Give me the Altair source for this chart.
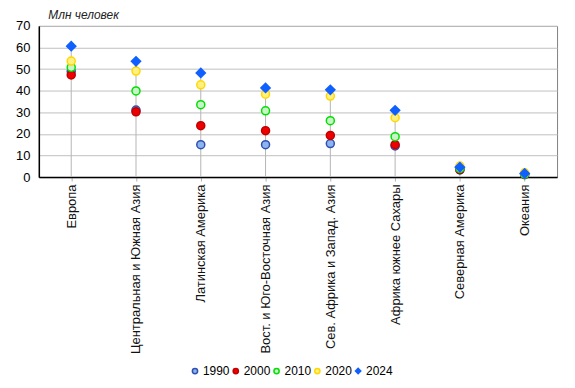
import altair as alt
import pandas as pd

regions = ["Европа", "Центральная и Южная Азия", "Латинская Америка",
           "Вост. и Юго-Восточная  Азия", "Сев. Африка и Запад. Азия",
           "Африка  южнее Сахары", "Северная Америка", "Океания"]
years = ["1990", "2000", "2010", "2020", "2024"]
v1990 = [49.0, 31.0, 15.0, 15.0, 15.5, 14.4, 3.3, 1.1]
v2000 = [47.3, 30.2, 23.8, 21.5, 19.3, 15.0, 3.5, 1.3]
v2010 = [50.8, 39.9, 33.5, 30.7, 26.1, 18.7, 4.0, 1.4]
v2020 = [53.7, 49.1, 42.7, 38.4, 37.5, 27.5, 5.1, 2.0]
v2024 = [60.6, 53.6, 48.2, 41.3, 40.4, 30.9, 4.6, 1.7]

fills = ["#8cb4f0", "#ee0000", "#c8f4c8", "#fff080", "#1060ff"]
strokes = ["#3050b0", "#c00000", "#00e000", "#ffd800", "#1060ff"]
shapes = ["circle", "circle", "circle", "circle", "diamond"]

series = [v1990, v2000, v2010, v2020, v2024]
rows = []
for y, vals in zip(years, series):
    for r, v in zip(regions, vals):
        rows.append({"region": r, "year": y, "value": v})
df = pd.DataFrame(rows)

font = "Liberation Sans"

x = alt.X("region:N", sort=regions, scale=alt.Scale(type="point", padding=0.5),
          axis=alt.Axis(title=None, labelAngle=-90, labelFontSize=13, labelColor="#111",
                        labelFont=font, ticks=True, tickColor="#b0b0b0", tickSize=4,
                        labelPadding=3, domainColor="#000", domainWidth=1.5, labelLimit=300))

y_axis = alt.Axis(title="Млн человек", titleAngle=0, titleX=9, titleY=-7,
                  titleAlign="left", titleBaseline="alphabetic", titleFontStyle="italic",
                  titleFontWeight="normal", titleFontSize=12, titleFont=font, titleColor="#222",
                  values=[0, 10, 20, 30, 40, 50, 60, 70], labelFontSize=13, labelFont=font,
                  labelColor="#000", ticks=False, labelPadding=9, grid=True,
                  gridColor="#c0c0c0", domainColor="#000", domainWidth=1.5)

rules = alt.Chart(df).transform_aggregate(
    maxv="max(value)", groupby=["region"]
).mark_rule(color="#b4b4b4", strokeWidth=1).encode(
    x=x,
    y=alt.Y("maxv:Q", scale=alt.Scale(domain=[0, 70], nice=False), axis=y_axis),
    y2=alt.datum(0),
)

points = alt.Chart(df).mark_point(filled=True, opacity=1, strokeWidth=1.5, size=65).encode(
    x=x,
    y=alt.Y("value:Q", scale=alt.Scale(domain=[0, 70], nice=False), axis=y_axis),
    fill=alt.Fill("year:N", scale=alt.Scale(domain=years, range=fills), title=None),
    stroke=alt.Stroke("year:N", scale=alt.Scale(domain=years, range=strokes), title=None),
    shape=alt.Shape("year:N", scale=alt.Scale(domain=years, range=shapes), title=None),
    size=alt.condition(alt.datum.year == "2024", alt.value(85), alt.value(65)),
    order=alt.Order("year:N"),
)

chart = alt.layer(rules, points).properties(
    width=521, height=152,
    autosize=alt.AutoSizeParams(type="none"),
    padding={"left": 31, "top": 17, "right": 10, "bottom": 200},
).configure_view(
    stroke="#808080", strokeWidth=1
).configure_legend(
    orient="none", legendX=151, legendY=341, direction="horizontal",
    labelFont=font, labelFontSize=12, labelColor="#000", symbolSize=28,
    symbolStrokeWidth=1.5, columnPadding=0, labelOffset=2
)

chart.save("out.html", embed_options={"renderer": "svg", "actions": False})
